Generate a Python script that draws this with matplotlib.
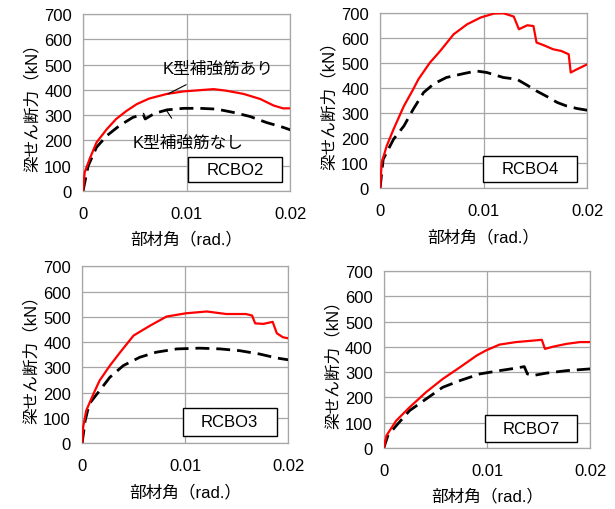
import matplotlib
matplotlib.use('Agg')
import matplotlib.pyplot as plt
from matplotlib.patches import Rectangle

plt.rcParams['font.family'] = ['Liberation Sans', 'Noto Sans CJK JP', 'DejaVu Sans']

# RCBO2
r2_x = [0, 0.00016, 0.00064, 0.0013, 0.0023, 0.0032, 0.0042, 0.0052, 0.0064, 0.0081,
        0.0097, 0.0113, 0.0126, 0.0138, 0.0155, 0.0171, 0.0184, 0.0193, 0.02]
r2_y = [0, 74, 127, 192, 245, 285, 317, 344, 366, 384, 394, 399, 403, 397, 384, 364, 338, 327, 327]
b2_x = [0, 0.0005, 0.0013, 0.0023, 0.0035, 0.0048, 0.0058, 0.006, 0.0069, 0.0081,
        0.0097, 0.0113, 0.0129, 0.0145, 0.0161, 0.0177, 0.0193, 0.02]
b2_y = [0, 100, 173, 219, 258, 291, 304, 285, 307, 321, 327, 327, 324, 311, 295, 271, 252, 242]

# RCBO4
r4_x = [0, 0.00016, 0.00064, 0.0013, 0.0023, 0.0032, 0.0037, 0.0048, 0.0058, 0.0071,
        0.0084, 0.0097, 0.011, 0.0119, 0.0129, 0.0134, 0.0142, 0.0148, 0.0151, 0.0158,
        0.0167, 0.0175, 0.0182, 0.0184, 0.019, 0.02]
r4_y = [0, 103, 169, 236, 329, 396, 436, 502, 549, 616, 656, 683, 699, 700, 687, 636,
        652, 649, 583, 572, 556, 549, 536, 463, 476, 496]
b4_x = [0, 0.0003, 0.0013, 0.0023, 0.0032, 0.0042, 0.0052, 0.0064, 0.0081, 0.0093,
        0.0103, 0.0119, 0.0132, 0.0142, 0.0151, 0.0161, 0.0171, 0.018, 0.019, 0.02]
b4_y = [0, 116, 196, 249, 316, 383, 418, 443, 459, 469, 463, 443, 436, 412, 389, 367,
        343, 329, 319, 312]

# RCBO3
r3_x = [0, 0.0001, 0.0004, 0.0011, 0.0017, 0.0027, 0.0037, 0.005, 0.0066, 0.0082,
        0.0101, 0.0121, 0.014, 0.0159, 0.0165, 0.0168, 0.0176, 0.0185, 0.0189, 0.0195, 0.02]
r3_y = [0, 63, 129, 195, 248, 307, 360, 426, 465, 501, 514, 521, 511, 511, 505, 474,
        472, 480, 435, 419, 415]
b3_x = [0, 0.0003, 0.0007, 0.0017, 0.0027, 0.004, 0.0056, 0.0072, 0.0092, 0.0114,
        0.0134, 0.0153, 0.0172, 0.0189, 0.02]
b3_y = [0, 90, 156, 208, 261, 307, 340, 360, 373, 376, 373, 366, 353, 337, 330]

# RCBO7
r7_x = [0, 0.00026, 0.0012, 0.0025, 0.0041, 0.0057, 0.0074, 0.009, 0.0099, 0.0112,
        0.0128, 0.0145, 0.0153, 0.0156, 0.0164, 0.0177, 0.019, 0.02]
r7_y = [0, 49, 108, 161, 221, 273, 320, 366, 386, 409, 419, 425, 428, 392, 401, 412, 419, 419]
b7_x = [0, 0.0004, 0.0012, 0.0025, 0.0041, 0.0057, 0.0074, 0.0093, 0.0112, 0.0128,
        0.0136, 0.0139, 0.0145, 0.0157, 0.0177, 0.02]
b7_y = [0, 49, 88, 148, 194, 240, 267, 293, 306, 316, 322, 293, 287, 296, 306, 313]

labels = ['RCBO2', 'RCBO4', 'RCBO3', 'RCBO7']
xticks = [0, 0.01, 0.02]
xticklabels = ['0', '0.01', '0.02']
yticks = list(range(0, 701, 100))

panels = [
    ([0.135, 0.6235, 0.337, 0.347], r2_x, r2_y, b2_x, b2_y, (0.507, 0.051, 0.454, 0.141)),
    ([0.618, 0.629, 0.337, 0.343], r4_x, r4_y, b4_x, b4_y, (0.499, 0.036, 0.451, 0.149)),
    ([0.1335, 0.129, 0.335, 0.347], r3_x, r3_y, b3_x, b3_y, (0.489, 0.043, 0.455, 0.155)),
    ([0.624, 0.1196, 0.336, 0.347], r7_x, r7_y, b7_x, b7_y, (0.489, 0.032, 0.445, 0.154)),
]

fs = 12

fig = plt.figure(figsize=(6.15, 5.10), dpi=100)
axes = []
for (rect, rx, ry, bx, by, box), name in zip(panels, labels):
    ax = fig.add_axes(rect)
    ax.plot(bx, by, color='black', lw=2.0, dashes=(5, 2.5), zorder=3)
    ax.plot(rx, ry, color='#ff0000', lw=1.6, zorder=4)
    ax.set_xlim(0, 0.02)
    ax.set_ylim(0, 700)
    ax.set_xticks(xticks)
    ax.set_xticklabels(xticklabels)
    ax.set_yticks(yticks)
    ax.grid(True, color='#a6a6a6', lw=0.9)
    ax.set_axisbelow(True)
    for s in ax.spines.values():
        s.set_color('#a6a6a6')
        s.set_linewidth(0.9)
    ax.tick_params(axis='x', length=0, labelsize=fs, pad=11)
    ax.tick_params(axis='y', length=0, labelsize=fs, pad=8)
    ax.set_xlabel('部材角（rad.）', fontsize=fs, labelpad=7)
    ax.set_ylabel('梁せん断力（kN）', fontsize=fs, labelpad=3)
    bx0, by0, bw, bh = box
    ax.add_patch(Rectangle((bx0, by0), bw, bh, transform=ax.transAxes,
                           facecolor='white', edgecolor='black', lw=1.0, zorder=5))
    ax.text(bx0 + bw / 2, by0 + bh / 2, name, transform=ax.transAxes,
            ha='center', va='center', fontsize=fs, zorder=6)
    axes.append(ax)

ax = axes[0]
ax.annotate('K型補強筋あり', xy=(0.0082, 384), xytext=(0.0130, 484),
            ha='center', va='center', fontsize=fs, zorder=6,
            arrowprops=dict(arrowstyle='-', color='black', lw=0.8,
                            shrinkA=9, shrinkB=0))
ax.annotate('K型補強筋なし', xy=(0.0081, 316), xytext=(0.0101, 192),
            ha='center', va='center', fontsize=fs, zorder=6,
            arrowprops=dict(arrowstyle='-', color='black', lw=0.8,
                            shrinkA=12, shrinkB=0))

fig.savefig('out.png', dpi=100)
